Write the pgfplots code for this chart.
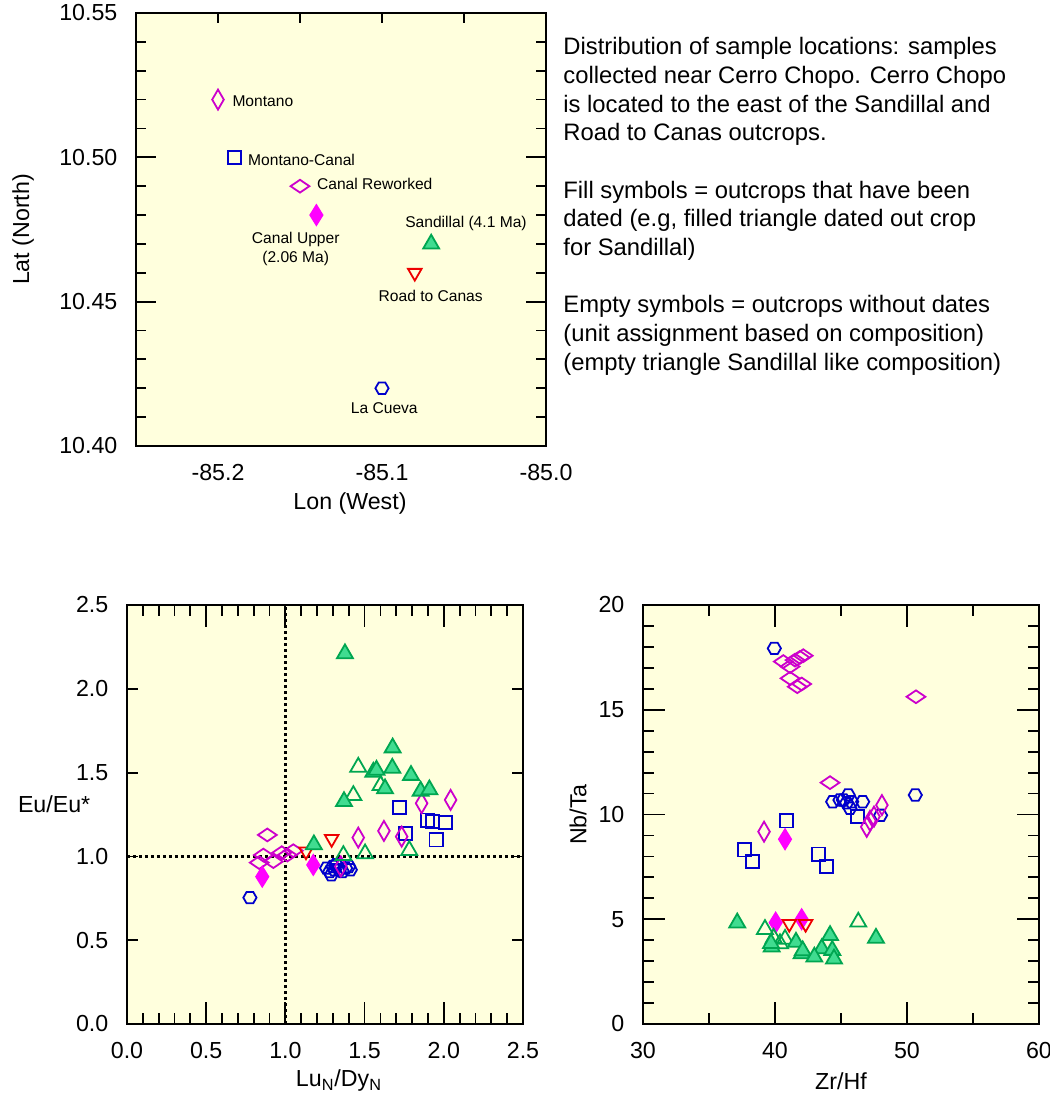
\documentclass[border=0pt]{standalone}
\usepackage{fontspec}
\setmainfont{Liberation Sans}
\usepackage{pgfplots}
\pgfplotsset{compat=1.18}

\definecolor{bgyel}{HTML}{FFFFDD}
\definecolor{mag}{HTML}{CC00CC}
\definecolor{magfill}{HTML}{FF00FF}
\definecolor{blu}{HTML}{0000CC}
\definecolor{grn}{HTML}{00A651}
\definecolor{grnfill}{HTML}{40DC90}
\definecolor{redd}{HTML}{EE0000}

% tall diamond, wide diamond, hexagon
\pgfdeclareplotmark{tdiam}{%
  \pgfpathmoveto{\pgfqpoint{0pt}{\pgfplotmarksize}}%
  \pgfpathlineto{\pgfqpoint{.58\pgfplotmarksize}{0pt}}%
  \pgfpathlineto{\pgfqpoint{0pt}{-\pgfplotmarksize}}%
  \pgfpathlineto{\pgfqpoint{-.58\pgfplotmarksize}{0pt}}%
  \pgfpathclose\pgfusepathqstroke}
\pgfdeclareplotmark{tdiam*}{%
  \pgfpathmoveto{\pgfqpoint{0pt}{\pgfplotmarksize}}%
  \pgfpathlineto{\pgfqpoint{.62\pgfplotmarksize}{0pt}}%
  \pgfpathlineto{\pgfqpoint{0pt}{-\pgfplotmarksize}}%
  \pgfpathlineto{\pgfqpoint{-.62\pgfplotmarksize}{0pt}}%
  \pgfpathclose\pgfusepathqfillstroke}
\pgfdeclareplotmark{wdiam}{%
  \pgfpathmoveto{\pgfqpoint{\pgfplotmarksize}{0pt}}%
  \pgfpathlineto{\pgfqpoint{0pt}{.68\pgfplotmarksize}}%
  \pgfpathlineto{\pgfqpoint{-\pgfplotmarksize}{0pt}}%
  \pgfpathlineto{\pgfqpoint{0pt}{-.68\pgfplotmarksize}}%
  \pgfpathclose\pgfusepathqstroke}
\pgfdeclareplotmark{hexa}{%
  \pgfpathmoveto{\pgfqpoint{\pgfplotmarksize}{0pt}}%
  \pgfpathlineto{\pgfqpoint{.5\pgfplotmarksize}{.866\pgfplotmarksize}}%
  \pgfpathlineto{\pgfqpoint{-.5\pgfplotmarksize}{.866\pgfplotmarksize}}%
  \pgfpathlineto{\pgfqpoint{-\pgfplotmarksize}{0pt}}%
  \pgfpathlineto{\pgfqpoint{-.5\pgfplotmarksize}{-.866\pgfplotmarksize}}%
  \pgfpathlineto{\pgfqpoint{.5\pgfplotmarksize}{-.866\pgfplotmarksize}}%
  \pgfpathclose\pgfusepathqstroke}

\pgfplotsset{
  panel/.style={
    scale only axis, anchor=south west,
    axis background/.style={fill=bgyel},
    axis line style={line width=1pt},
    every tick/.style={line width=0.9pt, black},
    tick align=inside,
    every tick label/.append style={font=\fontsize{11.6}{13}\selectfont},
    yticklabel style={xshift=-5.8pt},
    xticklabel style={yshift=-5.8pt},
    every axis x label/.style={at={(axis description cs:0.5,0)}, anchor=center,
      yshift=-28.5pt, font=\fontsize{11.6}{13}\selectfont},
    every axis y label/.style={anchor=center, rotate=90,
      font=\fontsize{11.6}{13}\selectfont},
  },
  mon/.style={only marks, mark=tdiam, mark size=5pt, mark options={draw=mag, line width=0.9pt}},
  up/.style={only marks, mark=tdiam*, mark size=5.2pt, mark options={draw=magfill, fill=magfill, line width=0.6pt}},
  rew/.style={only marks, mark=wdiam, mark size=4.7pt, mark options={draw=mag, line width=0.9pt}},
  sq/.style={only marks, mark=square, mark size=3.3pt, mark options={draw=blu, line width=0.9pt}},
  hex/.style={only marks, mark=hexa, mark size=3.3pt, mark options={draw=blu, line width=0.9pt}},
  tri/.style={only marks, mark=triangle*, mark size=4.6pt, mark options={draw=grn, fill=grnfill, line width=0.9pt}},
  trio/.style={only marks, mark=triangle, mark size=4.6pt, mark options={draw=grn, line width=0.9pt}},
  rdt/.style={only marks, mark=triangle, mark size=3.9pt, mark options={draw=redd, line width=0.9pt, rotate=180}},
}

\begin{document}
\begin{tikzpicture}
\path[use as bounding box] (0,0) rectangle (525pt,547pt);

% ---------- map of sample locations ----------
\begin{axis}[panel, at={(68pt,324pt)}, width=205pt, height=216.5pt,
  xmin=-85.25, xmax=-85.0, ymin=10.40, ymax=10.55,
  xtick={-85.2,-85.15,-85.1,-85.05,-85.0}, xticklabels={-85.2,,-85.1,,-85.0},
  xtick style={/pgfplots/major tick length=5pt},
  xtick pos=right, xticklabel pos=left,
  ytick={10.40,10.45,10.50,10.55}, yticklabels={10.40,10.45,10.50,10.55},
  minor y tick num=4,
  major tick length=10pt, minor tick length=5pt,
  xlabel={Lon (West)}, ylabel={Lat (North)},
  x label style={xshift=4.5pt},
  y label style={at={(axis description cs:-0.2756,0.5)}},
]
\addplot[mon] coordinates {(-85.20,10.52)};
\addplot[sq]  coordinates {(-85.19,10.50)};
\addplot[rew] coordinates {(-85.15,10.49)};
\addplot[up]  coordinates {(-85.14,10.48)};
\addplot[tri] coordinates {(-85.07,10.47)};
\addplot[rdt] coordinates {(-85.08,10.46)};
\addplot[hex] coordinates {(-85.10,10.42)};
\begin{scope}[every node/.style={font=\fontsize{7.8}{9.3}\selectfont, inner sep=0pt}]
\node[anchor=west] at (axis cs:-85.1914,10.5193) {Montano};
\node[anchor=west] at (axis cs:-85.1818,10.4991) {Montano-Canal};
\node[anchor=west] at (axis cs:-85.1398,10.4909) {Canal Reworked};
\node[align=center] at (axis cs:-85.1526,10.4682) {Canal Upper\\(2.06 Ma)};
\node at (axis cs:-85.0488,10.477) {Sandillal (4.1 Ma)};
\node at (axis cs:-85.0703,10.452) {Road to Canas};
\node at (axis cs:-85.0986,10.4132) {La Cueva};
\end{scope}
\end{axis}

% ---------- notes ----------
\begin{scope}[every node/.style={anchor=base west, inner sep=0pt, font=\fontsize{11.9}{14}\selectfont}]
\node at (281.5pt,519.5pt) {Distribution of sample locations: samples};
\node at (281.5pt,505.15pt) {collected near Cerro Chopo. Cerro Chopo};
\node at (281.5pt,490.8pt) {is located to the east of the Sandillal and};
\node at (281.5pt,476.5pt) {Road to Canas outcrops.};
\node at (281.5pt,447.8pt) {Fill symbols = outcrops that have been};
\node at (281.5pt,433.5pt) {dated (e.g, filled triangle dated out crop};
\node at (281.5pt,419.1pt) {for Sandillal)};
\node at (281.5pt,390.5pt) {Empty symbols = outcrops without dates};
\node at (281.5pt,376.1pt) {(unit assignment based on composition)};
\node at (281.5pt,361.75pt) {(empty triangle Sandillal like composition)};
\end{scope}

% ---------- Eu/Eu* vs LuN/DyN ----------
\begin{axis}[panel, at={(63.5pt,35pt)}, width=198pt, height=209.5pt,
  xmin=0, xmax=2.5, ymin=0, ymax=2.5,
  xtick={0,0.5,1,1.5,2,2.5}, xticklabels={0.0,0.5,1.0,1.5,2.0,2.5},
  minor x tick num=4,
  ytick={0,0.5,1,1.5,2,2.5}, yticklabels={0.0,0.5,1.0,1.5,2.0,2.5},
  ytick style={/pgfplots/major tick length=5.5pt},
  major tick length=11pt, minor tick length=5.5pt,
  xlabel={Lu\textsubscript{N}/Dy\textsubscript{N}}, ylabel={Eu/Eu*},
  y label style={rotate=-90, at={(axis description cs:-0.184,0.525)}},
  x label style={xshift=7pt},
]
\addplot[black, line width=1.2pt, dash pattern=on 1.4pt off 1.6pt] coordinates {(1,0) (1,2.5)};
\addplot[black, line width=1.2pt, dash pattern=on 1.4pt off 1.6pt] coordinates {(0,1) (2.5,1)};
\addplot[hex] coordinates {(0.776,0.754) (1.26,0.93) (1.28,0.91) (1.29,0.89) (1.30,0.94)
  (1.32,0.95) (1.31,0.92) (1.34,0.92) (1.36,0.91) (1.38,0.93) (1.40,0.94) (1.41,0.92)};
\addplot[sq] coordinates {(1.719,1.29) (1.898,1.217) (1.928,1.207) (2.008,1.201)
  (1.759,1.138) (1.951,1.098)};
\addplot[rew] coordinates {(0.886,1.128) (0.861,1.008) (0.835,0.963) (0.924,0.969)
  (0.977,1.022) (1.05,1.034) (1.012,1.008)};
\addplot[mon] coordinates {(1.46,1.112) (1.622,1.152) (1.734,1.118) (1.86,1.317)
  (2.043,1.337) (1.35,0.94)};
\addplot[up] coordinates {(0.854,0.879) (1.176,0.949)};
\addplot[rdt] coordinates {(1.292,1.104) (1.13,1.03)};
\addplot[trio] coordinates {(1.46,1.533) (1.429,1.364) (1.601,1.424) (1.366,1.006)
  (1.503,1.016) (1.782,1.036)};
\addplot[tri] coordinates {(1.376,2.21) (1.677,1.648) (1.675,1.527) (1.555,1.503)
  (1.575,1.515) (1.793,1.484) (1.854,1.39) (1.909,1.398) (1.629,1.404) (1.37,1.328)
  (1.18,1.07)};
\end{axis}

% ---------- Nb/Ta vs Zr/Hf ----------
\begin{axis}[panel, at={(321.5pt,35pt)}, width=198pt, height=209.5pt,
  xmin=30, xmax=60, ymin=0, ymax=20,
  xtick={30,40,50,60}, xticklabels={30,40,50,60}, minor x tick num=1,
  ytick={0,5,10,15,20}, yticklabels={0,5,10,15,20}, minor y tick num=4,
  major tick length=11pt, minor tick length=5.5pt,
  xlabel={Zr/Hf}, ylabel={Nb/Ta},
  y label style={at={(axis description cs:-0.164,0.5)}},
]
\addplot[hex] coordinates {(39.95,17.93) (50.63,10.93) (44.37,10.61) (44.92,10.69)
  (45.18,10.69) (45.55,10.93) (45.43,10.56) (45.68,10.3) (45.81,10.61) (46.64,10.61)
  (48.0,9.96)};
\addplot[sq] coordinates {(40.88,9.69) (37.67,8.31) (38.3,7.75) (43.31,8.11)
  (43.92,7.51) (46.24,9.9)};
\addplot[rew] coordinates {(40.63,17.3) (41.14,17.06) (41.52,17.37) (41.89,17.5)
  (42.14,17.58) (41.14,16.5) (41.69,16.1) (42.02,16.23) (50.68,15.62) (44.17,11.52)};
\addplot[mon] coordinates {(39.17,9.18) (46.95,9.41) (47.2,9.7) (47.5,9.9) (48.1,10.45)};
\addplot[up] coordinates {(40.76,8.82) (40.05,4.84) (42.02,5.0)};
\addplot[rdt] coordinates {(41.08,4.78) (42.32,4.78)};
\addplot[trio] coordinates {(39.24,4.52) (40.38,3.84) (40.76,4.05) (46.31,4.87) (39.9,4.1)};
\addplot[tri] coordinates {(37.14,4.83) (39.75,3.68) (39.7,3.85) (41.59,3.91)
  (42.02,3.36) (42.1,3.5) (43.54,3.6) (42.98,3.2) (44.17,4.23) (44.34,3.52)
  (44.47,3.11) (47.65,4.1)};
\end{axis}
\end{tikzpicture}
\end{document}
